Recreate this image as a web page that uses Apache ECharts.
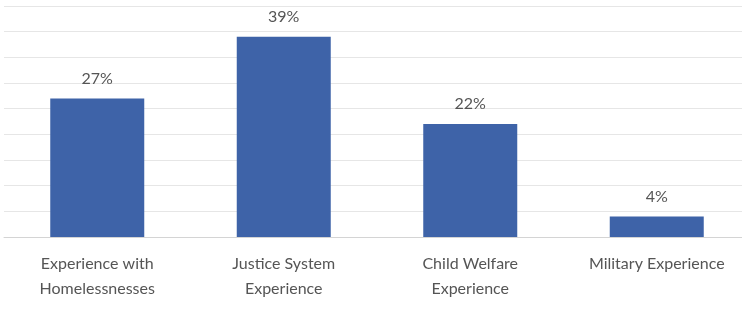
<!DOCTYPE html>
<html>
<head>
<meta charset="utf-8">
<script src="https://cdn.jsdelivr.net/npm/echarts@6/dist/echarts.min.js"></script>
<style>
  html, body { margin: 0; padding: 0; background: #fff; overflow: hidden; }
  #chart { width: 750px; height: 313px; }
</style>
</head>
<body>
<div id="chart"></div>
<script>
var categories = ['Experience with\nHomelessnesses', 'Justice System\nExperience', 'Child Welfare\nExperience', 'Military Experience']
var values = [27, 39, 22, 4]

var chart = echarts.init(document.getElementById('chart'))
var option = {
  animation: false,
  grid: {
    left: 4,
    right: 0,
    top: 6,
    bottom: 76
  },
  xAxis: {
    type: 'category',
    data: categories,
    axisLine: { lineStyle: { color: '#d4d4d4' } },
    axisTick: { show: false },
    axisLabel: {
      color: '#555555',
      fontFamily: 'Lato',
      fontSize: 16,
      lineHeight: 25,
      margin: 14,
      interval: 0
    }
  },
  yAxis: {
    type: 'value',
    min: 0,
    max: 45,
    interval: 5,
    axisLabel: { show: false },
    axisLine: { show: false },
    axisTick: { show: false },
    splitLine: { lineStyle: { color: '#e6e6e6' } }
  },
  series: [{
    type: 'bar',
    data: values,
    barWidth: 94,
    itemStyle: { color: '#3e63a8' },
    label: {
      show: true,
      position: 'top',
      distance: 12,
      color: '#555555',
      fontFamily: 'Lato',
      fontSize: 16,
      formatter: '{c}%'
    }
  }]
}
chart.setOption(option)
</script>
</body>
</html>
